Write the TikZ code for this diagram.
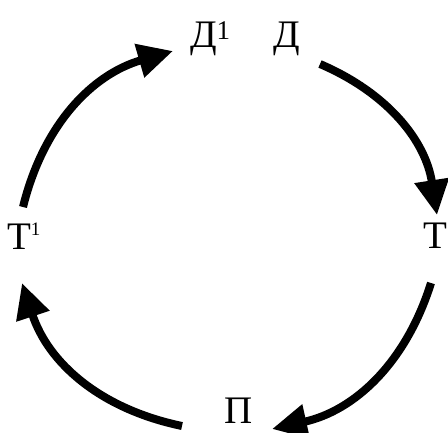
\documentclass[tikz,border=0pt]{standalone}
\usepackage{fontspec}
\setmainfont{Liberation Serif}
\usetikzlibrary{arrows.meta}
\tikzset{
  lbl/.style={inner sep=0pt, outer sep=0pt, font=\fontsize{39}{39}\selectfont},
  cyc/.style={line width=8pt, -{Triangle[length=35pt,width=33pt]}},
}
\newcommand{\supbig}{\raisebox{8pt}{\fontsize{27}{27}\selectfont 1}}
\newcommand{\supsmall}{\raisebox{14pt}{\fontsize{19}{19}\selectfont 1}}
\begin{document}
\begin{tikzpicture}[x=1pt,y=-1pt]
\useasboundingbox (0,0) rectangle (448,432);
% labels
\node[lbl, anchor=base west] (d1) at (190,47) {Д\supbig};
\node[lbl, anchor=base] (d) at (287,47) {Д};
\node[lbl, anchor=base west] (t1) at (7,249) {Т\supsmall};
\node[lbl, anchor=base east] (t) at (447,248) {Т};
\node[lbl, anchor=base] (p) at (238.5,423) {П};
% arrow ends
\coordinate (a1s) at (320,64);
\coordinate (a1e) at (437,215);
\coordinate (a2s) at (431,283);
\coordinate (a2e) at (272,429);
\coordinate (a3s) at (182,426);
\coordinate (a3e) at (22,283);
\coordinate (a4s) at (23,207);
\coordinate (a4e) at (173,51);
% arrows
\draw[cyc] (a1s) to[bend left=29] (a1e);
\draw[cyc] (a2s) to[bend left=30] (a2e);
\draw[cyc] (a3s) to[bend left=30] (a3e);
\draw[cyc] (a4s) to[bend left=30] (a4e);
\end{tikzpicture}
\end{document}
